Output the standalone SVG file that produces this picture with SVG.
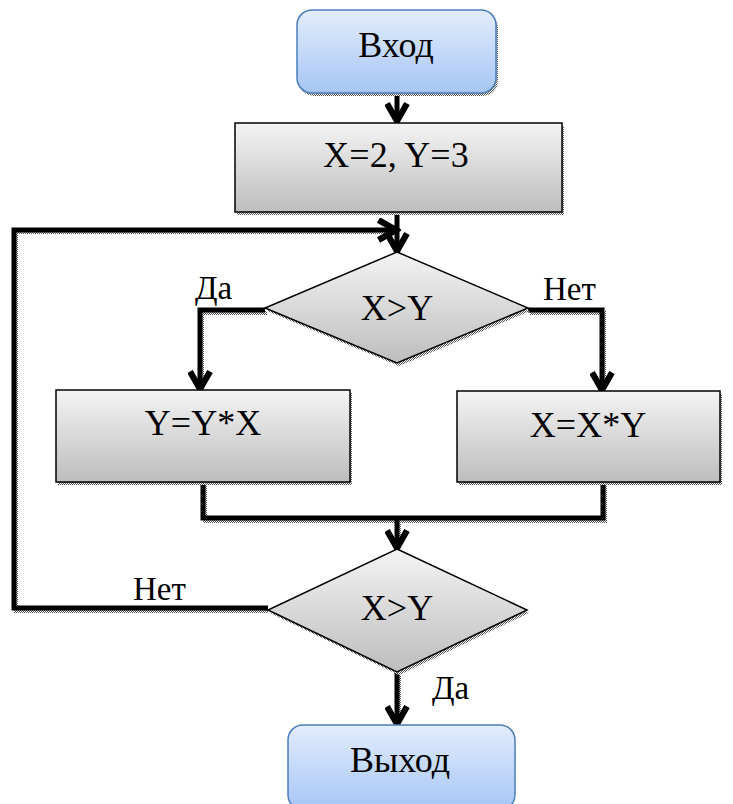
<svg xmlns="http://www.w3.org/2000/svg" width="733" height="804" viewBox="0 0 733 804">
<style>
text{font-family:'Liberation Serif','DejaVu Serif',serif}
.t{font-size:36px;fill:#000;text-anchor:middle}
.l{font-size:33px;fill:#000}
.term{fill:url(#gb);stroke:#4a7ebb;stroke-width:1.5}
.proc{fill:url(#gg);stroke:#000;stroke-width:1.5}
.sh{fill:url(#hatch);stroke:none}
.c{fill:none;stroke:#000;stroke-width:5}
.cs{fill:none;stroke:url(#hatch);stroke-width:4}
</style>
<defs>
<linearGradient id="gb" x1="0" y1="0" x2="0" y2="1"><stop offset="0" stop-color="#e3edfd"/><stop offset="1" stop-color="#a6c5f5"/></linearGradient>
<linearGradient id="gg" x1="0" y1="0" x2="0" y2="1"><stop offset="0" stop-color="#f4f4f4"/><stop offset="1" stop-color="#bdbdbd"/></linearGradient>
<pattern id="hatch" width="2" height="2" patternUnits="userSpaceOnUse"><rect width="2" height="2" fill="#fff"/><rect width="1" height="1" fill="#555"/><rect x="1" y="1" width="1" height="1" fill="#555"/></pattern>
<marker id="ah" viewBox="0 0 20 20" refX="16" refY="10" markerWidth="5" markerHeight="5" orient="auto" markerUnits="strokeWidth"><path d="M2,2 L16,10 L2,18" fill="none" stroke="#000" stroke-width="5" stroke-linejoin="miter"/></marker>
</defs>

<g id="connectors">
<path class="cs" d="M397,96 V118"/>
<path class="cs" d="M268,611 H16 V232 H392"/>
<path class="cs" d="M397,215 V248"/>
<path class="cs" d="M267,313 H202 V386"/>
<path class="cs" d="M530,313 H604 V388"/>
<path class="cs" d="M205,485 V521 H605 V485"/>
<path class="cs" d="M399,521 V545"/>
<path class="cs" d="M399,675 V720"/>
<path class="c" d="M397,93 V121" marker-end="url(#ah)"/>
<path class="c" d="M268,608 H14 V230 H396" marker-end="url(#ah)"/>
<path class="c" d="M397,212 V251" marker-end="url(#ah)"/>
<path class="c" d="M265,310 H200 V389" marker-end="url(#ah)"/>
<path class="c" d="M528,310 H602 V390" marker-end="url(#ah)"/>
<path class="c" d="M203,482 V518 H603 V482"/>
<path class="c" d="M397,518 V548" marker-end="url(#ah)"/>
<path class="c" d="M397,672 V724" marker-end="url(#ah)"/>
</g>

<g id="start">
<rect class="sh" x="299" y="13" width="199" height="83" rx="15"/>
<rect class="term" x="297" y="10" width="199" height="83" rx="15"/>
<text class="t" x="396" y="57">Вход</text>
</g>

<g id="init">
<rect class="sh" x="237" y="126" width="327" height="89"/>
<rect class="proc" x="235" y="123" width="327" height="89"/>
<text class="t" x="396" y="167">X=2, Y=3</text>
</g>

<g id="cond1">
<polygon class="sh" points="399,255 530,311 399,366 267,311"/>
<polygon class="proc" points="397,252 528,308 397,363 265,308"/>
<text class="t" x="397" y="320">X&gt;Y</text>
</g>

<g id="yes1">
<rect class="sh" x="58" y="393" width="294" height="92"/>
<rect class="proc" x="56" y="390" width="294" height="92"/>
<text class="t" x="203" y="435">Y=Y*X</text>
</g>

<g id="no1">
<rect class="sh" x="459" y="394" width="263" height="91"/>
<rect class="proc" x="457" y="391" width="263" height="91"/>
<text class="t" x="588" y="437">X=X*Y</text>
</g>

<g id="cond2">
<polygon class="sh" points="399,552 529,613 399,675 270,613"/>
<polygon class="proc" points="397,549 527,610 397,672 268,610"/>
<text class="t" x="397" y="620">X&gt;Y</text>
</g>

<g id="end">
<rect class="term" x="288" y="725" width="227" height="85" rx="15"/>
<text class="t" x="400" y="772">Выход</text>
</g>

<g id="labels">
<text class="l" x="195" y="299">Да</text>
<text class="l" x="543" y="300">Нет</text>
<text class="l" x="133" y="600">Нет</text>
<text class="l" x="432" y="699">Да</text>
</g>
</svg>
